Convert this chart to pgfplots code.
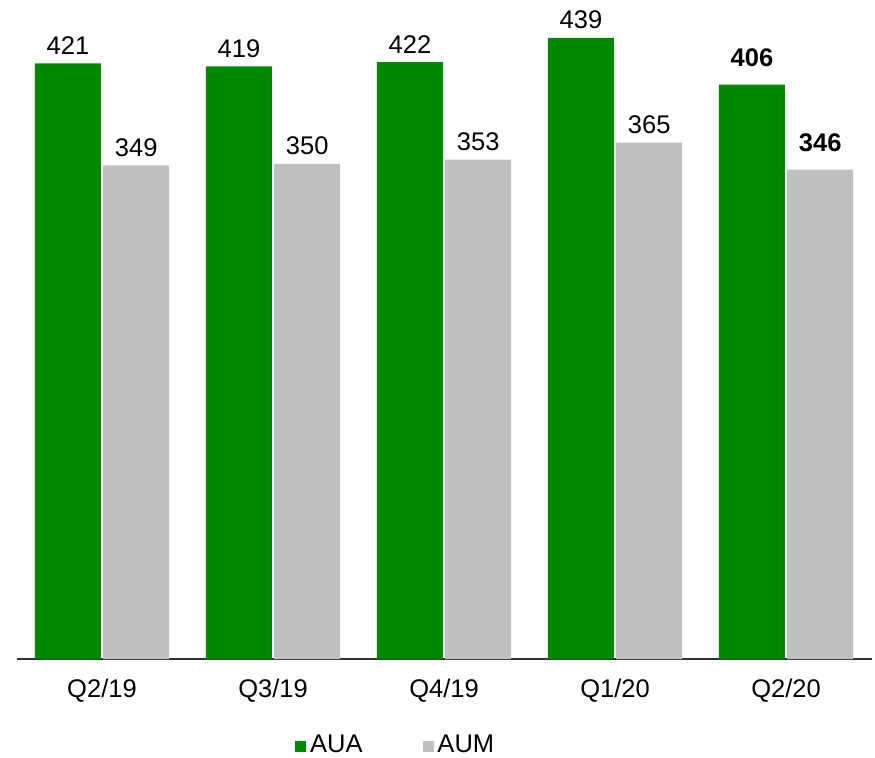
\documentclass[border=0pt]{standalone}
\usepackage{pgfplots}
\pgfplotsset{compat=1.18}
\usepackage{fontspec}
\setmainfont{Liberation Sans}
\definecolor{auagreen}{RGB}{0,136,0}
\definecolor{aumgray}{RGB}{192,192,192}
\begin{document}
\fontsize{12.8}{15}\selectfont
\begin{tikzpicture}
\begin{axis}[
  scale only axis,
  width=427.5bp, height=318.3bp,
  xmin=-0.497, xmax=4.503,
  ymin=0, ymax=450,
  ybar, bar width=0.386,
  axis x line=bottom, axis y line=none,
  axis line style={draw=black!80, line width=1bp, -},
  xtick={0,1,2,3,4},
  xticklabels={Q2/19,Q3/19,Q4/19,Q1/20,Q2/20},
  major tick length=0pt,
  xticklabel style={yshift=-5.5bp, font=\fontsize{12.8}{15}\selectfont},
  point meta=explicit symbolic,
  nodes near coords={\pgfplotspointmeta},
  every node near coord/.append style={font=\fontsize{12.8}{15}\selectfont, black},
  legend columns=2,
  legend style={draw=none, at={(0.444,0)}, anchor=center, yshift=-43.5bp,
    font=\fontsize{12.8}{15}\selectfont,
    /tikz/every even column/.append style={column sep=28bp}},
  clip=false,
]
\addplot[fill=auagreen, draw=none, bar shift=-0.199,
  legend image code/.code={\fill[auagreen] (0bp,-2.75bp) rectangle (5.5bp,2.75bp);}]
  coordinates {(0,421) [421] (1,419) [419] (2,422) [422] (3,439) [439] (4,406) [\bfseries\raisebox{4.5bp}{406}]};
\addlegendentry{AUA}
\addplot[fill=aumgray, draw=none, bar shift=0.2,
  legend image code/.code={\fill[aumgray] (0bp,-2.75bp) rectangle (5.5bp,2.75bp);}]
  coordinates {(0,349) [349] (1,350) [350] (2,353) [353] (3,365) [365] (4,346) [\bfseries\raisebox{4.5bp}{346}]};
\addlegendentry{AUM}
\coordinate (O) at (rel axis cs:0,0);
\end{axis}
\pgfresetboundingbox
\path[use as bounding box] ([shift={(-8.5bp,-49.5bp)}]O) rectangle ([shift={(429bp,329.5bp)}]O);
\end{tikzpicture}
\end{document}
